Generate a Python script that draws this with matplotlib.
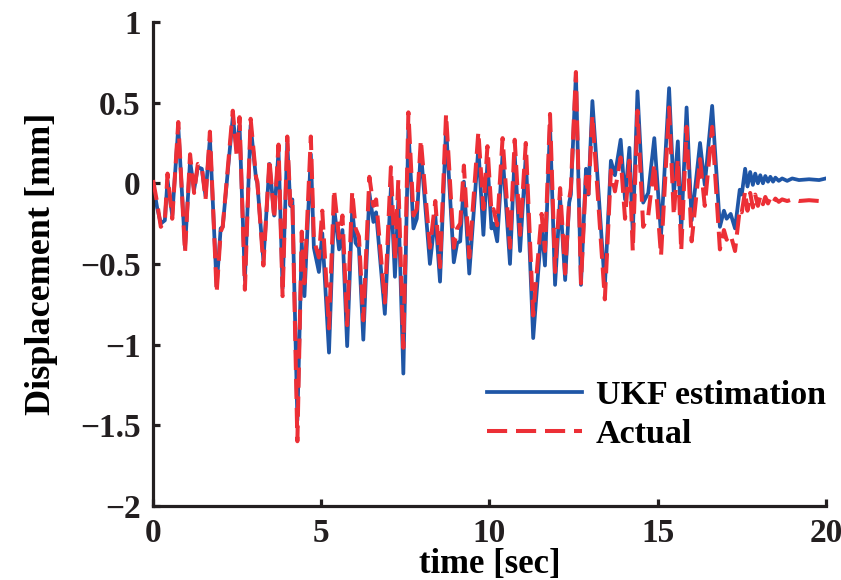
import matplotlib
matplotlib.use("Agg")
import matplotlib.pyplot as plt

# time [sec], UKF estimate and actual displacement [mm]
time = [0.00, 0.12, 0.23, 0.35, 0.43, 0.57, 0.75, 0.95, 1.10, 1.22,
        1.33, 1.45, 1.56, 1.69, 1.89, 2.01, 2.07, 2.37, 2.49, 2.57,
        2.73, 2.90, 3.06, 3.10, 3.28, 3.46, 3.60, 3.73, 3.85, 3.99,
        4.08, 4.14, 4.29, 4.42, 4.50, 4.69, 4.78, 4.93, 5.03, 5.23,
        5.38, 5.53, 5.63, 5.77, 5.92, 6.02, 6.12, 6.25, 6.43, 6.55,
        6.63, 6.89, 7.07, 7.19, 7.29, 7.44, 7.59, 7.74, 7.84, 7.96,
        8.23, 8.39, 8.53, 8.71, 8.94, 9.04, 9.13, 9.24, 9.40, 9.67,
        9.82, 9.94, 10.06, 10.12, 10.23, 10.39, 10.61, 10.75, 10.91, 11.08,
        11.30, 11.55, 11.65, 11.80, 11.95, 12.10, 12.25, 12.37, 12.42, 12.57,
        12.72, 12.87, 12.94, 13.06, 13.43, 13.61, 13.73, 13.90, 14.03, 14.16,
        14.26, 14.40, 14.57, 14.72, 14.90, 15.10, 15.34, 15.48, 15.60, 15.70,
        15.86, 16.01, 16.26, 16.40, 16.62, 16.85, 16.97, 17.05, 17.17, 17.30,
        17.44, 17.50, 17.60, 17.67, 17.75, 17.83, 17.90, 17.98, 18.05, 18.13,
        18.20, 18.28, 18.35, 18.43, 18.50, 18.60, 18.70, 18.85, 19.00, 19.20,
        19.50, 19.80, 20.00]

ukf = [0.00, -0.15, -0.25, -0.23, 0.02, -0.20, 0.35, -0.40, 0.14, -0.04,
       0.10, 0.09, -0.08, 0.28, -0.64, -0.28, -0.27, 0.41, 0.20, 0.36,
       -0.60, 0.36, 0.03, 0.00, -0.48, 0.12, -0.20, 0.20, -0.65, 0.25,
       -0.14, -0.10, -1.47, -0.37, -0.70, 0.18, -0.40, -0.55, -0.31, -1.05,
       -0.15, -0.41, -0.29, -1.01, -0.16, -0.37, -0.40, -0.97, -0.06, -0.24,
       -0.18, -0.81, -0.03, -0.58, -0.11, -1.18, 0.34, -0.28, -0.22, 0.20,
       -0.50, -0.20, -0.61, 0.35, -0.49, -0.37, -0.36, 0.01, -0.56, 0.22,
       -0.32, 0.13, -0.28, -0.25, -0.36, 0.18, -0.50, 0.18, -0.42, 0.17,
       -0.96, -0.27, -0.51, 0.36, -0.63, -0.09, -0.60, -0.12, -0.07, 0.68,
       -0.63, 0.09, -0.07, 0.51, -0.64, 0.14, 0.05, 0.27, -0.10, 0.22,
       -0.31, 0.57, -0.12, -0.06, 0.28, -0.32, 0.59, -0.07, 0.26, -0.30,
       0.47, -0.23, 0.25, -0.01, 0.48, -0.27, -0.17, -0.22, -0.19, -0.28,
       -0.04, -0.07, 0.09, -0.02, 0.07, -0.01, 0.06, 0.00, 0.05, 0.00,
       0.045, 0.01, 0.04, 0.01, 0.035, 0.015, 0.03, 0.015, 0.03, 0.02,
       0.025, 0.02, 0.03]

actual = [0.02, -0.12, -0.27, -0.24, 0.06, -0.22, 0.38, -0.43, 0.18, -0.06,
          0.12, 0.10, -0.10, 0.32, -0.68, -0.30, -0.27, 0.45, 0.16, 0.41,
          -0.66, 0.40, 0.04, 0.01, -0.51, 0.15, -0.22, 0.24, -0.70, 0.29,
          -0.13, -0.09, -1.60, -0.30, -0.62, 0.29, -0.35, -0.46, -0.17, -0.90,
          -0.04, -0.34, -0.20, -0.88, -0.05, -0.28, -0.33, -0.85, 0.04, -0.14,
          -0.10, -0.74, 0.10, -0.48, 0.02, -1.02, 0.44, -0.20, -0.16, 0.27,
          -0.40, -0.11, -0.52, 0.43, -0.40, -0.28, -0.25, 0.11, -0.46, 0.32,
          -0.16, 0.23, -0.18, -0.16, -0.26, 0.28, -0.40, 0.27, -0.32, 0.25,
          -0.82, -0.19, -0.42, 0.43, -0.55, -0.03, -0.56, -0.10, -0.03, 0.69,
          -0.62, 0.04, -0.08, 0.42, -0.72, 0.08, -0.05, 0.16, -0.22, 0.14,
          -0.42, 0.45, -0.27, -0.20, 0.12, -0.45, 0.47, -0.20, 0.15, -0.42,
          0.35, -0.36, 0.15, -0.14, 0.35, -0.41, -0.29, -0.35, -0.32, -0.42,
          -0.16, -0.18, -0.05, -0.17, -0.06, -0.15, -0.07, -0.14, -0.08, -0.13,
          -0.085, -0.125, -0.09, -0.12, -0.095, -0.115, -0.10, -0.11, -0.10, -0.11,
          -0.105, -0.11, -0.105]

xticks = [0, 5, 10, 15, 20]
yticks = [-2, -1.5, -1, -0.5, 0, 0.5, 1]
ytick_labels = ["\u22122", "\u22121.5", "\u22121", "\u22120.5", "0", "0.5", "1"]

plt.rcParams["font.family"] = ["Liberation Serif", "DejaVu Serif"]
plt.rcParams["font.weight"] = "bold"

fig = plt.figure(figsize=(8.41, 5.80), dpi=100)
ax = fig.add_axes([0.182, 0.128, 0.8, 0.834])

ax.plot(time, ukf, color="#1f56a6", lw=2.7, label="UKF estimation",
        zorder=2, solid_joinstyle="round")
ax.plot(time, actual, color="#ec2f36", lw=2.9, dashes=(5, 2.2),
        label="Actual", zorder=3, dash_joinstyle="round")

ax.set_xlim(0, 20)
ax.set_ylim(-2, 1)
ax.set_xticks(xticks)
ax.set_yticks(yticks)
ax.set_yticklabels(ytick_labels)

for side in ["top", "right"]:
    ax.spines[side].set_visible(False)
for side in ["left", "bottom"]:
    ax.spines[side].set_linewidth(2.3)
    ax.spines[side].set_color("#231f20")

ax.tick_params(direction="in", length=5, width=2.3, colors="#231f20",
               labelsize=24, pad=9)

ax.set_xlabel("time [sec]", fontsize=25, fontweight="bold", labelpad=-1)
ax.set_ylabel("Displacement [mm]", fontsize=26, fontweight="bold", labelpad=16)

ax.legend(loc="lower right", bbox_to_anchor=(1.0, 0.115), frameon=False,
          fontsize=24.5, handlelength=2.8, handletextpad=0.4,
          labelspacing=0.25, borderpad=0, borderaxespad=0)

fig.savefig("out.png", dpi=100)
